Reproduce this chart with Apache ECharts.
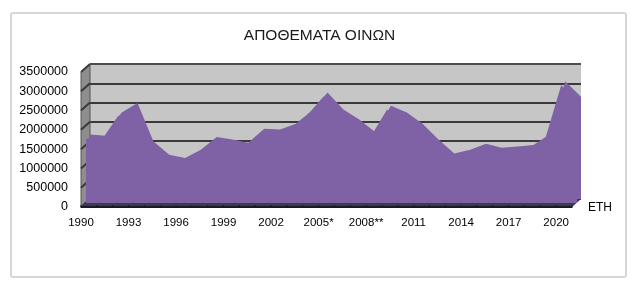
<!DOCTYPE html>
<html><head><meta charset="utf-8">
<script src="https://cdn.jsdelivr.net/npm/echarts@6/dist/echarts.min.js"></script>
<style>html,body{margin:0;padding:0;background:#fff}#c{width:639px;height:288px}</style>
</head><body><div id="c"></div>
<script>
var years = ['1990','1991','1992','1993','1994','1995','1996','1997','1998','1999','2000','2001','2002','2003','2004','2005*','2006','2007','2008**','2009','2010','2011','2012','2013','2014','2015','2016','2017','2018','2019','2020','2021'];
var stocks = [1670000,1640000,2240000,2490000,1500000,1150000,1060000,1280000,1610000,1540000,1460000,1820000,1800000,1950000,2290000,2760000,2320000,2060000,1740000,2420000,2240000,1950000,1540000,1180000,1280000,1430000,1330000,1360000,1400000,1670000,3050000,2650000];
var yTicks = [0,500000,1000000,1500000,2000000,2500000,3000000,3500000];
var title = 'ΑΠΟΘΕΜΑΤΑ ΟΙΝΩΝ';
var axisName = 'ΕΤΗ';

// front plane
var fL = 81, fR = 572, fT = 72, fB = 207;
var d = [9, -8]; // depth offset of back wall
function gridAt(dx, dy) {
  return {left: fL + dx, top: fT + dy, width: fR - fL, height: fB - fT};
}
var yMax = yTicks[yTicks.length - 1], yInt = yTicks[1] - yTicks[0];
var chart = echarts.init(document.getElementById('c'), null, {renderer: 'canvas'});
var font = 'Liberation Sans, Arial, sans-serif';
function yAx(i, showLabel, split) {
  return {type: 'value', gridIndex: i, min: 0, max: yMax, interval: yInt,
    axisLine: {show: false}, axisTick: {show: false},
    axisLabel: {show: showLabel, margin: 13, color: '#000', fontFamily: font, fontSize: 12.5,
      formatter: function (v) { return String(v); }},
    splitLine: {show: split, lineStyle: {color: '#3a3a3a', width: 2}}};
}
function xAx(i, showLabel) {
  return {type: 'category', gridIndex: i, data: years, boundaryGap: false,
    axisLine: {show: false}, axisTick: {show: false},
    axisLabel: {show: showLabel, interval: 2, margin: 10, color: '#000', fontFamily: font, fontSize: 11.5},
    splitLine: {show: false}};
}
var g0 = gridAt(0, 0), g1 = gridAt(d[0], d[1]), g2 = gridAt(5, -4);
g1.show = true; g1.backgroundColor = '#c6c6c6'; g1.borderWidth = 0;
var areaColor = '#7f62a5';
chart.setOption({
  animation: false,
  backgroundColor: '#fff',
  title: {text: title, left: 'center', top: 23, textStyle: {fontFamily: font, fontSize: 15.5, fontWeight: 'normal', color: '#1a1a1a'}},
  grid: [g0, g1, g2],
  xAxis: [xAx(0, true), xAx(1, false), xAx(2, false)],
  yAxis: [yAx(0, true, false), yAx(1, false, true), yAx(2, false, false)],
  series: [
    {type: 'line', xAxisIndex: 1, yAxisIndex: 1, data: stocks, symbol: 'none', z: 3,
      lineStyle: {width: 0}, areaStyle: {color: areaColor, opacity: 1}},
    {type: 'line', xAxisIndex: 2, yAxisIndex: 2, data: stocks, symbol: 'none', z: 4,
      lineStyle: {width: 0}, areaStyle: {color: areaColor, opacity: 1}}
  ]
});

var els = [];
els.push({type: 'rect', shape: {x: 11, y: 13, width: 615, height: 264, r: 2}, style: {fill: 'none', stroke: '#d6d6d6', lineWidth: 2}, z: 0});
els.push({type: 'polygon', shape: {points: [[fL, fT], [fL + d[0], fT + d[1]], [fL + d[0], fB + d[1]], [fL, fB]]}, style: {fill: '#8e8e8e', stroke: '#555', lineWidth: 1}, z: 1});
yTicks.forEach(function (v) {
  var pf = chart.convertToPixel({yAxisIndex: 0}, v);
  var pb = chart.convertToPixel({yAxisIndex: 1}, v);
  els.push({type: 'line', shape: {x1: fL, y1: pf, x2: fL + d[0], y2: pb}, style: {stroke: '#3a3a3a', lineWidth: 2}, z: 2});
});
els.push({type: 'line', shape: {x1: fL + d[0], y1: fT + d[1], x2: fR + d[0], y2: fT + d[1]}, style: {stroke: '#555', lineWidth: 1.5}, z: 2});
els.push({type: 'polygon', shape: {points: [[fL, fB], [fL + d[0], fB + d[1]], [fR + d[0], fB + d[1]], [fR, fB]]}, style: {fill: '#3b3b4a'}, z: 2});
els.push({type: 'line', shape: {x1: fL, y1: fB, x2: fR, y2: fB}, style: {stroke: '#1a1a2a', lineWidth: 2}, z: 10});
years.forEach(function (y, i) {
  var x = chart.convertToPixel({xAxisIndex: 0}, i);
  els.push({type: 'line', shape: {x1: x, y1: fB - 2, x2: x, y2: fB + 1}, style: {stroke: '#1a1a2a', lineWidth: 1}, z: 10});
});
els.push({type: 'text', x: fR + d[0] + 7, y: fB - 5, style: {text: axisName, fontFamily: font, fontSize: 12, fill: '#000'}, z: 10});
chart.setOption({graphic: els});
</script></body></html>
